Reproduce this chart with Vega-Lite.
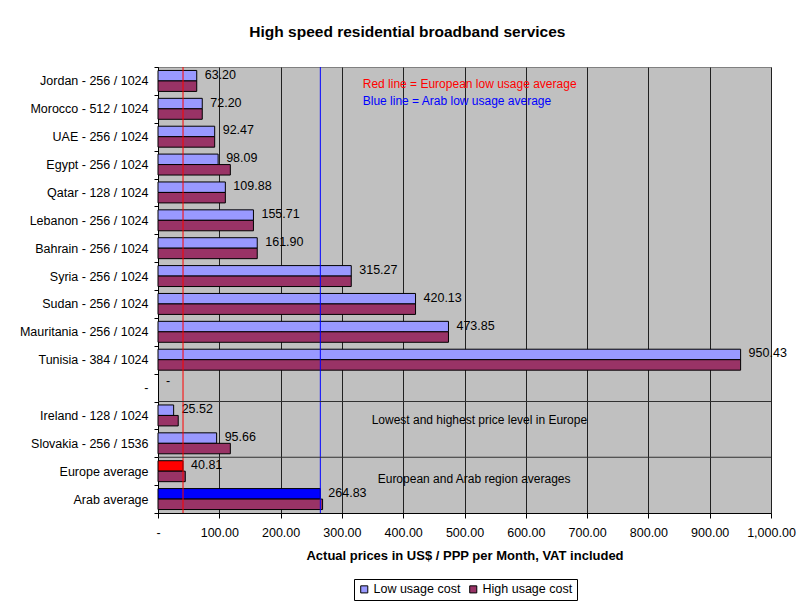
{
  "$schema": "https://vega.github.io/schema/vega-lite/v6.json",
  "width": 613,
  "height": 446,
  "autosize": {"type": "none"},
  "padding": {"left": 158, "top": 67, "right": 28, "bottom": 88},
  "background": "white",
  "title": {
    "text": "High speed residential broadband services",
    "anchor": "middle",
    "frame": "bounds",
    "fontSize": 15.5,
    "fontWeight": "bold",
    "font": "Liberation Sans",
    "color": "#000",
    "offset": 21
  },
  "config": {
    "view": {"fill": "#C0C0C0", "stroke": "#808080", "strokeWidth": 1},
    "font": "Liberation Sans"
  },
  "data": {
    "values": [
      {"cat": "Jordan - 256 / 1024", "series": "Low usage cost", "value": 63.20},
      {"cat": "Jordan - 256 / 1024", "series": "High usage cost", "value": 63.20},
      {"cat": "Morocco - 512 / 1024", "series": "Low usage cost", "value": 72.20},
      {"cat": "Morocco - 512 / 1024", "series": "High usage cost", "value": 72.20},
      {"cat": "UAE - 256 / 1024", "series": "Low usage cost", "value": 92.47},
      {"cat": "UAE - 256 / 1024", "series": "High usage cost", "value": 92.47},
      {"cat": "Egypt - 256 / 1024", "series": "Low usage cost", "value": 98.09},
      {"cat": "Egypt - 256 / 1024", "series": "High usage cost", "value": 118.0},
      {"cat": "Qatar - 128 / 1024", "series": "Low usage cost", "value": 109.88},
      {"cat": "Qatar - 128 / 1024", "series": "High usage cost", "value": 109.88},
      {"cat": "Lebanon - 256 / 1024", "series": "Low usage cost", "value": 155.71},
      {"cat": "Lebanon - 256 / 1024", "series": "High usage cost", "value": 155.71},
      {"cat": "Bahrain - 256 / 1024", "series": "Low usage cost", "value": 161.90},
      {"cat": "Bahrain - 256 / 1024", "series": "High usage cost", "value": 161.90},
      {"cat": "Syria - 256 / 1024", "series": "Low usage cost", "value": 315.27},
      {"cat": "Syria - 256 / 1024", "series": "High usage cost", "value": 315.27},
      {"cat": "Sudan - 256 / 1024", "series": "Low usage cost", "value": 420.13},
      {"cat": "Sudan - 256 / 1024", "series": "High usage cost", "value": 420.13},
      {"cat": "Mauritania - 256 / 1024", "series": "Low usage cost", "value": 473.85},
      {"cat": "Mauritania - 256 / 1024", "series": "High usage cost", "value": 473.85},
      {"cat": "Tunisia - 384 / 1024", "series": "Low usage cost", "value": 950.43},
      {"cat": "Tunisia - 384 / 1024", "series": "High usage cost", "value": 950.43},
      {"cat": "-", "series": "Low usage cost", "value": 0},
      {"cat": "Ireland - 128 / 1024", "series": "Low usage cost", "value": 25.52},
      {"cat": "Ireland - 128 / 1024", "series": "High usage cost", "value": 33.0},
      {"cat": "Slovakia - 256 / 1536", "series": "Low usage cost", "value": 95.66},
      {"cat": "Slovakia - 256 / 1536", "series": "High usage cost", "value": 118.0},
      {"cat": "Europe average", "series": "Low usage cost", "value": 40.81},
      {"cat": "Europe average", "series": "High usage cost", "value": 44.5},
      {"cat": "Arab average", "series": "Low usage cost", "value": 264.83},
      {"cat": "Arab average", "series": "High usage cost", "value": 268.5}
    ]
  },
  "layer": [
    {
      "mark": {"type": "bar", "stroke": "#000", "strokeWidth": 1},
      "encoding": {
        "x": {
          "field": "value",
          "type": "quantitative",
          "scale": {"domain": [0, 1000], "nice": false, "zero": true},
          "axis": {
            "title": "Actual prices in US$ / PPP per Month, VAT included",
            "titleFontSize": 13,
            "titleFontWeight": "bold",
            "titleFont": "Liberation Sans",
            "titleColor": "#000",
            "titlePadding": 11,
            "values": [0, 100, 200, 300, 400, 500, 600, 700, 800, 900, 1000],
            "labelExpr": "datum.value === 0 ? '-' : format(datum.value, ',.2f')",
            "labelFontSize": 12.5,
            "labelFont": "Liberation Sans",
            "labelColor": "#000",
            "labelPadding": 8,
            "labelFlush": false,
            "labelOverlap": false,
            "tickSize": 5,
            "tickColor": "#000",
            "domainColor": "#000",
            "grid": true,
            "gridColor": "#202020",
            "gridOpacity": 1,
            "gridWidth": 1
          }
        },
        "y": {
          "field": "cat",
          "type": "nominal",
          "sort": ["Jordan - 256 / 1024", "Morocco - 512 / 1024", "UAE - 256 / 1024", "Egypt - 256 / 1024", "Qatar - 128 / 1024", "Lebanon - 256 / 1024", "Bahrain - 256 / 1024", "Syria - 256 / 1024", "Sudan - 256 / 1024", "Mauritania - 256 / 1024", "Tunisia - 384 / 1024", "-", "Ireland - 128 / 1024", "Slovakia - 256 / 1536", "Europe average", "Arab average"],
          "scale": {"paddingInner": 0, "paddingOuter": 0},
          "axis": {
            "title": null,
            "tickBand": "extent",
            "tickSize": 4,
            "tickColor": "#000",
            "domainColor": "#000",
            "labelFontSize": 12.5,
            "labelFont": "Liberation Sans",
            "labelColor": "#000",
            "labelPadding": 6,
            "labelLimit": 0,
            "grid": false
          }
        },
        "yOffset": {
          "field": "series",
          "type": "nominal",
          "sort": ["Low usage cost", "High usage cost"],
          "scale": {"paddingOuter": 0.33, "paddingInner": 0}
        },
        "opacity": {"condition": {"test": "datum.value === 0", "value": 0}, "value": 1},
        "color": {
          "condition": [
            {"test": "datum.cat === 'Europe average' && datum.series === 'Low usage cost'", "value": "#FF0000"},
            {"test": "datum.cat === 'Arab average' && datum.series === 'Low usage cost'", "value": "#0000FF"}
          ],
          "field": "series",
          "type": "nominal",
          "scale": {"domain": ["Low usage cost", "High usage cost"], "range": ["#9999FF", "#993366"]},
          "legend": {
            "orient": "none",
            "legendX": 196,
            "legendY": 512,
            "direction": "horizontal",
            "title": null,
            "symbolType": "square",
            "symbolSize": 50,
            "symbolStrokeColor": "#000",
            "symbolStrokeWidth": 1,
            "symbolOpacity": 1,
            "labelFontSize": 12.5,
            "labelFont": "Liberation Sans",
            "labelColor": "#000",
            "strokeColor": "#000",
            "fillColor": "#fff",
            "padding": 4,
            "columnPadding": 6,
            "labelOffset": 3
          }
        }
      }
    },
    {
      "transform": [{"filter": "datum.series === 'Low usage cost'"}],
      "mark": {"type": "text", "align": "left", "baseline": "middle", "dx": 8, "dy": -1, "fontSize": 12.5, "font": "Liberation Sans", "color": "#000"},
      "encoding": {
        "x": {"field": "value", "type": "quantitative"},
        "y": {"field": "cat", "type": "nominal", "sort": ["Jordan - 256 / 1024", "Morocco - 512 / 1024", "UAE - 256 / 1024", "Egypt - 256 / 1024", "Qatar - 128 / 1024", "Lebanon - 256 / 1024", "Bahrain - 256 / 1024", "Syria - 256 / 1024", "Sudan - 256 / 1024", "Mauritania - 256 / 1024", "Tunisia - 384 / 1024", "-", "Ireland - 128 / 1024", "Slovakia - 256 / 1536", "Europe average", "Arab average"]},
        "yOffset": {"field": "series", "type": "nominal", "sort": ["Low usage cost", "High usage cost"]},
        "text": {"condition": {"test": "datum.value === 0", "value": "-"}, "field": "value", "type": "quantitative", "format": ".2f"}
      }
    },
    {
      "transform": [{"filter": "datum.series === 'Low usage cost' && (datum.cat === 'Europe average' || datum.cat === 'Arab average')"}],
      "mark": {"type": "rule", "strokeWidth": 1},
      "encoding": {
        "x": {"field": "value", "type": "quantitative"},
        "color": {"condition": {"test": "datum.cat === 'Europe average'", "value": "#FF0000"}, "value": "#0000FF"}
      }
    },
    {
      "transform": [{"filter": "datum.series === 'Low usage cost' && (datum.cat === 'Ireland - 128 / 1024' || datum.cat === 'Europe average')"}],
      "mark": {"type": "rule", "color": "#303030", "strokeWidth": 1},
      "encoding": {
        "y": {"field": "cat", "type": "nominal", "bandPosition": 0, "sort": ["Jordan - 256 / 1024", "Morocco - 512 / 1024", "UAE - 256 / 1024", "Egypt - 256 / 1024", "Qatar - 128 / 1024", "Lebanon - 256 / 1024", "Bahrain - 256 / 1024", "Syria - 256 / 1024", "Sudan - 256 / 1024", "Mauritania - 256 / 1024", "Tunisia - 384 / 1024", "-", "Ireland - 128 / 1024", "Slovakia - 256 / 1536", "Europe average", "Arab average"]}
      }
    },
    {
      "data": {"values": [{"note": "Red line = European low usage average", "value": 334, "cat": "Jordan - 256 / 1024"}]},
      "mark": {"type": "text", "align": "left", "baseline": "middle", "dy": 3, "fontSize": 12, "font": "Liberation Sans", "color": "#FF0000"},
      "encoding": {
        "x": {"field": "value", "type": "quantitative"},
        "y": {"field": "cat", "type": "nominal", "sort": ["Jordan - 256 / 1024", "Morocco - 512 / 1024", "UAE - 256 / 1024", "Egypt - 256 / 1024", "Qatar - 128 / 1024", "Lebanon - 256 / 1024", "Bahrain - 256 / 1024", "Syria - 256 / 1024", "Sudan - 256 / 1024", "Mauritania - 256 / 1024", "Tunisia - 384 / 1024", "-", "Ireland - 128 / 1024", "Slovakia - 256 / 1536", "Europe average", "Arab average"]},
        "text": {"field": "note"}
      }
    },
    {
      "data": {"values": [{"note": "Blue line = Arab low usage average", "value": 334, "cat": "Jordan - 256 / 1024"}]},
      "mark": {"type": "text", "align": "left", "baseline": "middle", "dy": 20, "fontSize": 12, "font": "Liberation Sans", "color": "#0000FF"},
      "encoding": {
        "x": {"field": "value", "type": "quantitative"},
        "y": {"field": "cat", "type": "nominal", "sort": ["Jordan - 256 / 1024", "Morocco - 512 / 1024", "UAE - 256 / 1024", "Egypt - 256 / 1024", "Qatar - 128 / 1024", "Lebanon - 256 / 1024", "Bahrain - 256 / 1024", "Syria - 256 / 1024", "Sudan - 256 / 1024", "Mauritania - 256 / 1024", "Tunisia - 384 / 1024", "-", "Ireland - 128 / 1024", "Slovakia - 256 / 1536", "Europe average", "Arab average"]},
        "text": {"field": "note"}
      }
    },
    {
      "data": {"values": [{"note": "Lowest and highest price level in Europe", "value": 348.5, "cat": "Ireland - 128 / 1024"}]},
      "mark": {"type": "text", "align": "left", "baseline": "middle", "dy": 5, "fontSize": 12, "font": "Liberation Sans", "color": "#000"},
      "encoding": {
        "x": {"field": "value", "type": "quantitative"},
        "y": {"field": "cat", "type": "nominal", "sort": ["Jordan - 256 / 1024", "Morocco - 512 / 1024", "UAE - 256 / 1024", "Egypt - 256 / 1024", "Qatar - 128 / 1024", "Lebanon - 256 / 1024", "Bahrain - 256 / 1024", "Syria - 256 / 1024", "Sudan - 256 / 1024", "Mauritania - 256 / 1024", "Tunisia - 384 / 1024", "-", "Ireland - 128 / 1024", "Slovakia - 256 / 1536", "Europe average", "Arab average"]},
        "text": {"field": "note"}
      }
    },
    {
      "data": {"values": [{"note": "European and Arab region averages", "value": 358.4, "cat": "Europe average"}]},
      "mark": {"type": "text", "align": "left", "baseline": "middle", "dy": 8, "fontSize": 12, "font": "Liberation Sans", "color": "#000"},
      "encoding": {
        "x": {"field": "value", "type": "quantitative"},
        "y": {"field": "cat", "type": "nominal", "sort": ["Jordan - 256 / 1024", "Morocco - 512 / 1024", "UAE - 256 / 1024", "Egypt - 256 / 1024", "Qatar - 128 / 1024", "Lebanon - 256 / 1024", "Bahrain - 256 / 1024", "Syria - 256 / 1024", "Sudan - 256 / 1024", "Mauritania - 256 / 1024", "Tunisia - 384 / 1024", "-", "Ireland - 128 / 1024", "Slovakia - 256 / 1536", "Europe average", "Arab average"]},
        "text": {"field": "note"}
      }
    }
  ]
}
